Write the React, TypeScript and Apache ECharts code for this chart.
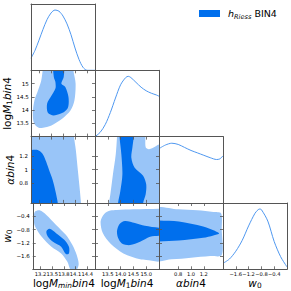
import React, { useEffect, useRef } from 'react';
import * as echarts from 'echarts';

const DARK = '#006FED';
const LIGHT = '#99C5F8';
const CURVE = '#4f98f0';
const FRAME = '#555555';
const FONT = 'DejaVu Sans';

// parameter ranges and ticks: logMmin, logM1, alpha, w0
const paramRanges: number[][] = [[13.0, 14.6], [13.0, 15.5], [0.5, 1.5], [-2.0, 0.0]];
const paramTicks: number[][] = [
  [13.2, 13.5, 13.8, 14.1, 14.4],
  [13.5, 14.0, 14.5, 15.0],
  [0.8, 1.0, 1.2],
  [-1.6, -1.2, -0.8, -0.4],
];

// 1D marginals (normalised to peak 1)
const logMminX = [13.0, 13.1, 13.2, 13.3, 13.4, 13.5, 13.6, 13.7, 13.8, 13.9, 14.0, 14.1, 14.2, 14.3, 14.4, 14.5, 14.6];
const logMminP = [0.2, 0.33, 0.5, 0.68, 0.84, 0.95, 1.0, 0.98, 0.9, 0.77, 0.59, 0.37, 0.18, 0.05, 0.0, 0.0, 0.0];
const logM1X = [13.0, 13.2, 13.4, 13.6, 13.8, 14.0, 14.2, 14.3, 14.4, 14.6, 14.8, 15.0, 15.2, 15.4, 15.5];
const logM1P = [0.0, 0.07, 0.2, 0.4, 0.64, 0.86, 0.98, 1.0, 0.98, 0.9, 0.82, 0.76, 0.72, 0.69, 0.67];
const alphaX = [0.5, 0.6, 0.7, 0.8, 0.9, 1.0, 1.1, 1.2, 1.3, 1.4, 1.45, 1.5];
const alphaP = [0.9, 0.96, 0.99, 0.97, 0.92, 0.87, 0.83, 0.79, 0.75, 0.72, 0.73, 0.78];
const w0X = [-2.0, -1.8, -1.6, -1.4, -1.2, -1.0, -0.9, -0.85, -0.8, -0.6, -0.4, -0.2, 0.0];
const w0P = [0.1, 0.17, 0.3, 0.48, 0.72, 0.93, 0.99, 1.0, 0.99, 0.8, 0.46, 0.21, 0.04];

// 2D contours (outer = 95%, inner = 68%)
const m1_mmin_outer = [[13.3, 15.7], [13.28, 15.5], [13.24, 15.1], [13.16, 14.74], [13.07, 14.36], [13.03, 13.9], [13.06, 13.5], [13.18, 13.33], [13.35, 13.35], [13.5, 13.42], [13.77, 13.67], [13.98, 13.98], [14.08, 14.36], [14.11, 15.0], [14.06, 15.44], [14.04, 15.7]];
const m1_mmin_inner = [[13.56, 15.7], [13.56, 15.25], [13.6, 15.06], [13.6, 14.81], [13.48, 14.49], [13.39, 14.24], [13.41, 13.9], [13.56, 13.8], [13.81, 13.92], [13.92, 14.11], [13.93, 14.49], [13.85, 14.87], [13.75, 15.0], [13.81, 15.25], [13.8, 15.7]];
const al_mmin_outer = [[12.9, 1.6], [14.07, 1.6], [14.075, 1.5], [14.12, 1.3], [14.17, 1.0], [14.22, 0.7], [14.25, 0.5], [14.26, 0.4], [12.9, 0.4]];
const al_mmin_inner = [[12.9, 1.31], [13.0, 1.3], [13.14, 1.3], [13.24, 1.27], [13.31, 1.22], [13.38, 1.12], [13.45, 1.0], [13.54, 0.85], [13.61, 0.68], [13.67, 0.5], [13.68, 0.4], [12.9, 0.4]];
const w0_mmin_outer = [[13.02, -0.46], [13.06, -0.26], [13.18, -0.22], [13.35, -0.36], [13.6, -0.66], [13.85, -0.96], [14.02, -1.27], [14.13, -1.57], [14.18, -1.85], [14.12, -2.02], [13.98, -2.02], [13.89, -1.77], [13.73, -1.52], [13.48, -1.32], [13.23, -1.02], [13.06, -0.71]];
const w0_mmin_inner = [[13.35, -0.86], [13.43, -0.78], [13.6, -0.91], [13.81, -1.11], [13.93, -1.32], [13.93, -1.52], [13.85, -1.54], [13.73, -1.32], [13.52, -1.17], [13.39, -1.02]];
const al_m1_outer = [[13.86, 1.6], [13.86, 1.5], [13.81, 1.23], [13.7, 0.93], [13.6, 0.63], [13.55, 0.5], [13.54, 0.4], [15.6, 0.4], [15.6, 1.38], [15.5, 1.38], [15.39, 1.36], [15.11, 1.31], [14.98, 1.34], [14.97, 1.5], [14.97, 1.6]];
const al_m1_inner = [[13.96, 1.6], [13.96, 1.49], [14.03, 1.23], [14.07, 0.93], [13.99, 0.68], [13.9, 0.5], [13.89, 0.4], [14.87, 0.4], [14.88, 0.5], [14.98, 0.63], [15.0, 0.78], [14.88, 0.91], [14.55, 1.03], [14.42, 1.18], [14.46, 1.33], [14.51, 1.49], [14.51, 1.6]];
const w0_m1_outer = [[13.22, -0.55], [13.36, -0.33], [13.6, -0.23], [13.85, -0.21], [14.5, -0.19], [15.5, -0.17], [15.6, -0.17], [15.6, -1.72], [15.0, -1.72], [14.76, -1.7], [14.11, -1.52], [13.62, -1.24], [13.3, -0.9]];
const w0_m1_inner = [[13.86, -0.84], [13.96, -0.63], [14.17, -0.54], [14.56, -0.6], [14.95, -0.69], [15.5, -0.75], [15.6, -0.75], [15.6, -0.99], [15.5, -0.99], [15.15, -1.02], [14.76, -1.17], [14.37, -1.27], [14.05, -1.22], [13.9, -1.05]];
const w0_al_outer = [[0.4, -0.19], [0.8, -0.19], [1.1, -0.22], [1.35, -0.27], [1.47, -0.31], [1.48, -0.8], [1.48, -1.57], [1.3, -1.6], [1.0, -1.65], [0.7, -1.7], [0.4, -1.72]];
const w0_al_inner = [[0.4, -0.53], [0.5, -0.53], [0.81, -0.56], [1.19, -0.71], [1.35, -0.82], [1.44, -0.92], [1.35, -0.98], [1.19, -1.05], [0.81, -1.13], [0.5, -1.16], [0.4, -1.16]];

const marginals = [[logMminX, logMminP], [logM1X, logM1P], [alphaX, alphaP], [w0X, w0P]];
// key "row,col"
const contours: Record<string, number[][][]> = {
  '1,0': [m1_mmin_outer, m1_mmin_inner],
  '2,0': [al_mmin_outer, al_mmin_inner],
  '3,0': [w0_mmin_outer, w0_mmin_inner],
  '2,1': [al_m1_outer, al_m1_inner],
  '3,1': [w0_m1_outer, w0_m1_inner],
  '3,2': [w0_al_outer, w0_al_inner],
};

const xLabelFmt = [
  (v: number) => v.toFixed(1),
  (v: number) => v.toFixed(1),
  (v: number) => v.toFixed(1),
  (v: number) => v.toFixed(1).replace('-', '\u2212'),
];
const yLabelFmt = [
  (v: number) => String(v),
  (v: number) => String(v),
  (v: number) => String(v),
  (v: number) => v.toFixed(1).replace('-', '\u2212'),
];

const richName = {
  n: { fontFamily: FONT, fontSize: 10.5, color: '#000', lineHeight: 10, verticalAlign: 'top' },
  i: { fontFamily: FONT, fontSize: 10.5, fontStyle: 'italic', color: '#000', lineHeight: 10, verticalAlign: 'top' },
  s: { fontFamily: FONT, fontSize: 7.4, fontStyle: 'italic', color: '#000', lineHeight: 7, padding: [4.5, 0, 0, 0], verticalAlign: 'top' },
  t: { fontFamily: FONT, fontSize: 7.4, color: '#000', lineHeight: 7, padding: [4.5, 0, 0, 0], verticalAlign: 'top' },
};
const axisNames = [
  '{n|log}{i|M}{s|min}{i|bin}{n|4}',
  '{n|log}{i|M}{t|1}{i|bin}{n|4}',
  '{i|\u03b1bin}{n|4}',
  '{i|w}{t|0}',
];

const COL_LEFT = [31, 95, 159, 223];
const COL_W = 64;
const ROW_TOP = [4, 70.3, 136.6, 203];
const ROW_H = 66.3;

function buildOption() {
  const grid: any[] = [];
  const xAxis: any[] = [];
  const yAxis: any[] = [];
  const series: any[] = [];

  const lineStyle = { color: FRAME, width: 1 };
  for (let r = 0; r < 4; r++) {
    for (let c = 0; c <= r; c++) {
      const gi = grid.length;
      grid.push({ left: COL_LEFT[c], top: ROW_TOP[r], width: COL_W, height: ROW_H, containLabel: false });
      const diag = r === c;
      const [xmin, xmax] = paramRanges[c];
      const xt = paramTicks[c];
      const showXTick = !diag || r === 3;
      const bottomIdx = xAxis.length;
      xAxis.push({
        type: 'value', gridIndex: gi, position: 'bottom', min: xmin, max: xmax, z: 10,
        splitLine: { show: false },
        axisLine: { show: true, onZero: false, lineStyle },
        axisTick: { show: showXTick, inside: true, length: 3, lineStyle: { color: FRAME, width: 0.8 }, customValues: xt },
        axisLabel: { show: false },
        ...(r === 3 ? { name: axisNames[c], nameLocation: 'middle', nameGap: 8.4, nameTextStyle: { rich: richName } } : {}),
      });
      xAxis.push({
        type: 'value', gridIndex: gi, position: 'top', min: xmin, max: xmax, z: 10,
        splitLine: { show: false },
        axisLine: { show: true, onZero: false, lineStyle },
        axisTick: { show: !diag, inside: true, length: 3, lineStyle: { color: FRAME, width: 0.8 }, customValues: xt },
        axisLabel: { show: false },
      });
      if (r === 3) {
        // tick labels split over two label-only axes so that touching labels all stay visible
        const even = xt.filter((_, k) => k % 2 === 0);
        const odd = xt.filter((_, k) => k % 2 === 1);
        [even, odd].forEach((vals) => {
          if (!vals.length) return;
          xAxis.push({
            type: 'value', gridIndex: gi, position: 'bottom', min: xmin, max: xmax, z: 10,
            splitLine: { show: false }, axisLine: { show: false, onZero: false }, axisTick: { show: false },
            axisLabel: {
              show: true, customValues: vals, fontSize: 5.15, fontFamily: FONT, color: '#000', margin: 2,
              hideOverlap: false, formatter: xLabelFmt[c],
            },
          });
        });
      }
      const leftIdx = yAxis.length;
      if (diag) {
        yAxis.push({
          type: 'value', gridIndex: gi, position: 'left', min: 0, max: 1.1, z: 10,
          splitLine: { show: false }, axisLine: { show: true, onZero: false, lineStyle },
          axisTick: { show: false }, axisLabel: { show: false },
        });
        yAxis.push({
          type: 'value', gridIndex: gi, position: 'right', min: 0, max: 1.1, z: 10,
          splitLine: { show: false }, axisLine: { show: true, onZero: false, lineStyle },
          axisTick: { show: false }, axisLabel: { show: false },
        });
        const [mx, mp] = marginals[c];
        series.push({
          type: 'line', xAxisIndex: bottomIdx, yAxisIndex: leftIdx, showSymbol: false, smooth: 0.3, clip: true,
          lineStyle: { color: CURVE, width: 1 }, data: mx.map((x, k) => [x, mp[k]]), silent: true,
        });
      } else {
        const [ymin, ymax] = paramRanges[r];
        const yt = paramTicks[r];
        yAxis.push({
          type: 'value', gridIndex: gi, position: 'left', min: ymin, max: ymax, z: 10,
          splitLine: { show: false }, axisLine: { show: true, onZero: false, lineStyle },
          axisTick: { show: true, inside: true, length: 3, lineStyle: { color: FRAME, width: 0.8 }, customValues: yt },
          axisLabel: {
            show: c === 0, customValues: yt, fontSize: 5.5, fontFamily: FONT, color: '#000', margin: 3,
            hideOverlap: false, showMinLabel: true, showMaxLabel: true,
            formatter: yLabelFmt[r],
          },
          ...(c === 0 ? { name: axisNames[r], nameLocation: 'middle', nameRotate: 90, nameGap: 14, nameTextStyle: { rich: richName } } : {}),
        });
        yAxis.push({
          type: 'value', gridIndex: gi, position: 'right', min: ymin, max: ymax, z: 10,
          splitLine: { show: false }, axisLine: { show: true, onZero: false, lineStyle },
          axisTick: { show: true, inside: true, length: 3, lineStyle: { color: FRAME, width: 0.8 }, customValues: yt },
          axisLabel: { show: false },
        });
        const polys = contours[`${r},${c}`];
        polys.forEach((poly, k) => {
          const fill = k === 0 ? LIGHT : DARK;
          series.push({
            type: 'custom', xAxisIndex: bottomIdx, yAxisIndex: leftIdx, clip: true, silent: true,
            data: poly,
            renderItem: (params: any, api: any) => {
              if (params.dataIndex !== 0) return null;
              const pts = poly.map((p) => api.coord(p));
              return { type: 'polygon', shape: { points: pts, smooth: 0.3 }, style: { fill } };
            },
          });
        });
      }
    }
  }

  return {
    animation: false,
    backgroundColor: '#ffffff',
    grid, xAxis, yAxis, series,
    graphic: [
      { type: 'rect', shape: { x: 199, y: 10, width: 21, height: 7 }, style: { fill: DARK } },
      {
        type: 'text', x: 228, y: 8,
        style: {
          text: '{i|h}{s|Riess}{n| BIN4}',
          rich: {
            n: { fontFamily: FONT, fontSize: 9.5, color: '#000', lineHeight: 11, verticalAlign: 'top' },
            i: { fontFamily: FONT, fontSize: 9.5, fontStyle: 'italic', color: '#000', lineHeight: 11, verticalAlign: 'top' },
            s: { fontFamily: FONT, fontSize: 6.6, fontStyle: 'italic', color: '#000', lineHeight: 7, padding: [5, 0, 0, 0], verticalAlign: 'top' },
          },
        },
      },
    ],
  };
}

export default function App() {
  const ref = useRef<HTMLDivElement>(null);
  useEffect(() => {
    if (!ref.current) return;
    const chart = echarts.init(ref.current, undefined, { renderer: 'svg' });
    chart.setOption(buildOption() as any);
    return () => chart.dispose();
  }, []);
  return (
    <div
      ref={ref}
      style={{ position: 'fixed', left: 0, top: 0, width: 291, height: 291, background: '#fff' }}
    />
  );
}
